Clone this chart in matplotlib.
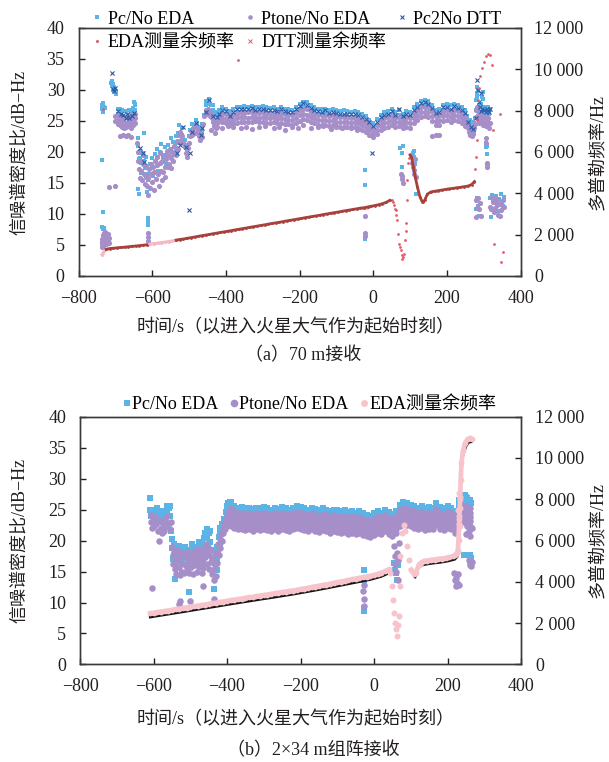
import matplotlib
matplotlib.use("Agg")
import matplotlib.pyplot as plt
from matplotlib.lines import Line2D
from matplotlib.ticker import FuncFormatter

plt.rcParams['font.family'] = ['Liberation Serif', 'Noto Sans CJK SC']
plt.rcParams['axes.unicode_minus'] = True

C_PC = '#5BB3E6'     # Pc/No EDA
C_PT = '#A68EC9'     # Ptone/No EDA
C_X = '#2D5AA8'      # Pc2No DTT
C_EDA = '#A8403C'    # EDA residual frequency (dense line)
C_RED = '#E25C68'    # residual frequency scatter
C_PINK = '#F4B9C2'   # DTT residual frequency
C_PINK_B = '#F7C4CC'
C_INK = '#231F20'

# ---------------- (a) 70 m ----------------
# flat part of the C/N0 band, read every 10 s
a_band_t = [-410, -400, -390, -380, -370, -360, -350, -340, -330, -320,
            -310, -300, -290, -280, -270, -260, -250, -240, -230, -220,
            -210, -200, -190, -180, -170, -160, -150, -140, -130, -120,
            -110, -100, -90, -80, -70, -60, -50, -40, -30, -20,
            -10, 0, 10, 20, 30, 40, 50, 60, 70, 80,
            90, 100, 110, 120, 130, 140, 150, 160, 170, 180,
            190, 200, 210, 220, 230, 240, 250]
a_pc_hi = [27.2, 27.0, 26.6, 26.9, 27.2, 27.3, 27.4, 27.3, 27.4, 27.3,
           27.2, 27.4, 27.3, 27.1, 27.2, 27.0, 27.2, 27.0, 27.0, 26.8,
           27.3, 27.8, 28.1, 28.0, 27.5, 27.2, 27.0, 26.9, 27.0, 26.8,
           26.9, 26.7, 26.6, 26.7, 26.6, 26.5, 26.6, 26.4, 26.1, 25.8,
           25.2, 24.6, 25.3, 26.0, 26.4, 26.6, 27.0, 26.5, 26.8, 26.2,
           26.6, 26.4, 27.2, 27.8, 28.3, 28.4, 28.3, 27.6, 26.8, 26.9,
           27.6, 27.8, 27.5, 27.8, 27.6, 27.2, 26.8]
a_pc_lo = [26.3, 26.2, 25.9, 26.0, 26.4, 26.5, 26.5, 26.4, 26.6, 26.5,
           26.4, 26.6, 26.5, 26.3, 26.3, 26.2, 26.4, 26.2, 26.1, 26.0,
           26.4, 26.9, 27.2, 27.1, 26.6, 26.4, 26.2, 26.1, 26.1, 26.0,
           26.0, 25.9, 25.8, 25.8, 25.7, 25.6, 25.7, 25.5, 25.2, 24.9,
           24.3, 23.8, 24.4, 25.1, 25.5, 25.8, 26.1, 25.7, 25.9, 25.4,
           25.7, 25.6, 26.3, 26.9, 27.4, 27.5, 27.4, 26.7, 25.9, 26.0,
           26.7, 26.9, 26.6, 26.9, 26.7, 26.3, 25.9]
a_pt_hi = [26.2, 26.1, 25.8, 25.9, 26.2, 26.4, 26.3, 26.4, 26.4, 26.3,
           26.3, 26.4, 26.2, 26.2, 26.3, 26.0, 26.2, 26.1, 26.0, 25.9,
           26.3, 26.8, 27.0, 26.9, 26.5, 26.2, 26.0, 25.9, 26.0, 25.8,
           25.9, 25.7, 25.6, 25.7, 25.6, 25.5, 25.5, 25.3, 25.0, 24.8,
           24.2, 23.7, 24.3, 25.0, 25.4, 25.6, 25.9, 25.5, 25.7, 25.2,
           25.6, 25.4, 26.2, 26.8, 27.2, 27.3, 27.2, 26.6, 25.8, 25.9,
           26.5, 26.8, 26.5, 26.7, 26.6, 26.1, 25.7]
a_pt_mid = [25.5, 25.3, 25.0, 25.2, 25.5, 25.6, 25.7, 25.5, 25.6, 25.7,
            25.5, 25.7, 25.5, 25.4, 25.6, 25.3, 25.5, 25.3, 25.2, 25.1,
            25.5, 25.9, 26.1, 26.0, 25.6, 25.4, 25.2, 25.1, 25.2, 25.0,
            25.1, 24.9, 24.8, 24.9, 24.8, 24.7, 24.8, 24.6, 24.3, 24.0,
            23.5, 23.0, 23.6, 24.2, 24.6, 24.9, 25.1, 24.8, 24.9, 24.5,
            24.9, 24.7, 25.4, 26.0, 26.4, 26.5, 26.4, 25.8, 25.0, 25.1,
            25.8, 26.0, 25.7, 25.9, 25.8, 25.4, 25.0]
a_pt_lo = [24.8, 24.6, 24.3, 24.5, 24.7, 24.9, 24.8, 24.9, 24.8, 25.0,
           24.8, 24.9, 24.7, 24.6, 24.8, 24.6, 24.7, 24.5, 24.5, 24.4,
           24.6, 25.0, 25.3, 25.2, 24.8, 24.6, 24.4, 24.3, 24.4, 24.2,
           24.3, 24.2, 24.0, 24.1, 24.0, 23.9, 24.0, 23.8, 23.5, 23.2,
           22.8, 22.4, 22.9, 23.5, 23.9, 24.1, 24.4, 24.0, 24.2, 23.8,
           24.1, 23.9, 24.6, 25.2, 25.6, 25.8, 25.7, 25.0, 24.3, 24.4,
           25.0, 25.2, 24.9, 25.1, 25.0, 24.6, 24.2]
a_dtt = [26.8, 26.6, 25.8, 26.5, 26.9, 26.9, 27.0, 26.9, 27.1, 26.8,
         26.9, 27.0, 26.8, 26.8, 26.7, 26.6, 26.9, 26.6, 26.5, 26.4,
         26.9, 27.4, 27.9, 27.6, 27.1, 26.8, 26.6, 26.5, 26.7, 26.3,
         26.5, 26.3, 26.2, 26.2, 26.1, 26.1, 26.2, 25.9, 25.6, 25.3,
         24.8, 24.2, 24.9, 25.6, 26.0, 26.1, 26.6, 26.0, 27.0, 25.8,
         26.2, 25.9, 26.8, 27.3, 27.9, 28.0, 27.8, 27.1, 26.3, 26.5,
         27.2, 27.3, 27.0, 27.4, 27.1, 26.7, 26.3]

# early pass, dip and recovery (-740 .. -415 s) plus isolated points
a_pc_t = [-736, -735, -734, -733, -731, -729, -735, -734, -736, -733, -731,
          -711, -710, -708, -707, -706, -705, -704, -703, -701, -700, -698, -697,
          -694, -688, -682, -676, -670, -664, -658, -652, -646,
          -694, -688, -682, -676, -670, -664, -658, -652, -646, -648, -647,
          -638, -638, -637, -636, -638, -637, -632, -632, -631, -630, -623, -624,
          -622, -619, -616, -612, -612, -613, -612, -611, -612, -605, -600, -600,
          -598, -593, -586, -586, -584, -580, -577, -577, -575, -570, -564, -564,
          -562, -557, -550, -550, -548, -543, -536, -536, -534, -530, -527, -527,
          -525, -518, -518, -512, -506, -506, -500, -496, -491, -491, -486, -482,
          -482, -477, -473, -473, -468, -464, -464, -460, -455, -455, -453, -450,
          -445, -445, -440, -436, -436, -432, -427, -427, -422, -418, -418,
          -22, -21, -22, 74, 77, 79, 82, 108, 110, 112, 114, 116,
          256, 258, 260, 263, 266, 268, 271, 274, 277, 279, 280, 281, 282, 283,
          284, 286, 288, 290, 292, 294, 296, 298, 299, 301, 303, 305, 307, 309,
          311, 313, 315, 317, 306, 307, 308, 310, 282, 284, 280, 286,
          318, 320, 322, 325, 326, 330, 334, 338, 340, 342, 346, 350, 352, 355]
a_pc_v = [27.6, 27.0, 26.5, 27.9, 27.3, 27.1, 18.7, 10.3, 7.9, 7.5, 7.8,
          31.2, 30.6, 31.5, 30.9, 30.2, 31.0, 30.4, 29.8, 30.2, 29.7, 29.9, 29.4,
          27.0, 26.9, 26.8, 26.6, 26.6, 26.8, 26.5, 27.1, 27.6,
          26.2, 26.1, 25.8, 25.6, 25.7, 26.0, 25.6, 26.2, 26.8, 28.1, 27.8,
          22.3, 21.0, 19.8, 18.9, 14.1, 13.3, 20.2, 19.0, 18.2, 16.6, 23.0, 19.8,
          18.5, 17.4, 19.2, 16.5, 15.5, 13.6, 9.4, 8.7, 8.3, 18.0, 19.0, 17.8,
          16.2, 19.6, 20.5, 19.2, 17.0, 20.0, 21.3, 19.8, 18.2, 19.2, 20.8, 19.5,
          18.0, 21.2, 22.3, 20.5, 19.2, 21.6, 22.5, 21.4, 20.0, 23.0, 24.3, 23.0,
          21.5, 23.8, 22.8, 22.0, 21.2, 20.3, 22.5, 23.6, 24.5, 23.5, 24.3, 25.1,
          24.0, 24.6, 24.0, 23.2, 24.0, 24.5, 23.5, 26.0, 28.3, 27.5, 26.5, 28.0,
          28.5, 27.8, 27.6, 27.5, 26.8, 26.5, 26.0, 25.2, 26.4, 26.8, 25.8,
          17.1, 14.6, 5.9, 20.6, 19.9, 17.6, 20.9, 19.8, 20.2, 19.2, 18.0, 13.3,
          25.8, 25.0, 24.5, 25.2, 24.0, 24.8, 23.9, 24.6, 25.5, 26.8, 28.4, 29.5, 30.4, 28.9,
          29.8, 27.6, 26.5, 27.4, 26.3, 27.8, 28.8, 29.6, 28.6, 27.3, 26.6, 27.2, 26.2, 27.0,
          26.4, 27.3, 26.1, 27.0, 21.4, 20.8, 19.6, 21.0, 12.5, 11.3, 10.8, 9.7,
          12.6, 9.5, 13.0, 10.8, 12.2, 11.8, 12.9, 11.5, 10.5, 12.4, 13.2, 12.0, 11.3, 12.7]

a_pt_t = [-737, -736, -735, -734, -733, -732, -731, -730, -729, -728, -727, -726,
          -725, -724, -723, -722, -721, -720, -719, -718, -717, -736, -733, -718, -702,
          -700, -700, -694, -694, -694, -688, -688, -688, -682, -682, -682,
          -676, -676, -676, -670, -670, -670, -664, -664, -664, -658, -658, -658,
          -652, -652, -652, -646, -646, -646, -688, -680, -672, -665, -658,
          -640, -639, -638, -636, -634, -632, -630, -628, -626, -624, -622, -620,
          -618, -616, -614, -612, -612, -611, -612, -610, -608, -606, -604, -602,
          -600, -598, -596, -594, -592, -590, -588, -586, -584, -582, -580, -578,
          -576, -574, -572, -570, -568, -566, -564, -562, -560, -558, -556, -554,
          -552, -550, -548, -546, -544, -542, -540, -538, -536,
          -532, -530, -528, -526, -524, -522, -519, -516, -512, -509, -506, -503,
          -500, -497, -494, -491, -488, -485, -482, -479, -476, -473, -470, -467,
          -464, -461, -458, -455, -452, -449, -446, -443, -440, -437, -434, -431,
          -428, -425, -422, -419, -416, -440, -430,
          -425, -410, -395, -380, -360, -345, -330, -310, -295, -270, -255, -240,
          -220, -205, -190, -170, -150, -135, -115, -100, -85, -60, -45, 160, 170, 180,
          -23, -22, -22, 75, 77, 79, 81, 106, 108, 110, 112, 115, 113,
          256, 258, 260, 262, 264, 266, 268, 270, 272, 274, 276, 278, 280, 282,
          284, 286, 288, 290, 292, 294, 296, 298, 300, 302, 304, 306, 308, 310,
          312, 314, 316, 306, 307, 308, 309, 310,
          278, 280, 283, 285, 288, 290, 292,
          317, 321, 324, 328, 332, 336, 339, 343, 344, 348, 330, 353, 356, 319, 335]
a_pt_v = [5.2, 6.0, 5.5, 6.6, 5.0, 5.8, 6.9, 5.4, 6.2, 7.1, 5.6, 6.4,
          5.1, 6.8, 5.9, 6.3, 5.3, 6.7, 5.7, 6.1, 5.4, 4.6, 4.8, 14.4, 14.5,
          25.8, 25.0, 26.0, 25.2, 24.5, 25.9, 25.0, 24.3, 25.6, 24.8, 24.0,
          25.4, 24.6, 23.8, 25.6, 24.7, 24.0, 25.8, 24.9, 24.2, 25.3, 24.5, 23.9,
          25.9, 25.1, 24.4, 26.2, 25.4, 24.6, 22.6, 22.8, 22.5, 22.7, 22.4,
          21.5, 20.0, 18.6, 17.2, 15.8, 18.6, 17.0, 15.5, 19.5, 18.0, 16.5, 14.8,
          17.8, 16.0, 14.5, 13.0, 7.0, 6.3, 5.7, 15.8, 17.2, 14.2, 16.5, 18.0,
          15.2, 17.5, 13.8, 16.8, 18.6, 15.6, 17.9, 19.2, 16.4, 14.5, 18.2, 19.8,
          17.0, 15.5, 18.5, 16.8, 19.2, 17.6, 15.9, 18.9, 20.2, 17.5, 19.5, 18.0,
          20.5, 19.0, 17.4, 20.0, 18.6, 21.0, 19.6, 20.8, 19.5,
          21.8, 20.5, 22.8, 21.6, 23.2, 22.0, 22.5, 21.5, 20.8, 19.8, 19.2, 20.6,
          21.5, 22.6, 23.4, 22.8, 23.8, 23.0, 24.0, 23.2, 23.6, 22.6, 22.0, 23.0,
          22.4, 24.5, 25.8, 26.8, 26.2, 27.0, 26.4, 25.8, 26.2, 25.5, 24.8, 24.2,
          23.8, 24.6, 25.2, 25.6, 25.0, 23.6, 23.0,
          24.0, 23.8, 24.2, 24.0, 23.9, 24.1, 23.7, 24.0, 24.2, 23.8, 24.0, 23.6,
          24.1, 23.9, 24.3, 23.8, 24.0, 24.2, 23.7, 24.0, 23.9, 24.1, 23.5, 22.6, 22.8, 22.7,
          9.6, 7.0, 6.5, 16.5, 15.6, 16.2, 15.0, 18.2, 17.6, 17.1, 16.4, 15.9, 18.8,
          24.6, 23.9, 23.3, 24.2, 22.8, 23.6, 22.5, 23.4, 22.9, 23.8, 24.5, 25.6, 26.8, 27.2,
          26.0, 25.2, 24.6, 25.8, 24.9, 26.1, 25.4, 24.4, 25.6, 24.8, 25.9, 24.2, 25.3, 24.7,
          25.5, 23.9, 24.6, 22.2, 21.5, 18.2, 17.6, 18.0,
          9.5, 12.2, 11.0, 12.5, 10.8, 11.8, 9.6,
          11.2, 10.8, 12.0, 10.3, 11.0, 12.3, 9.9, 9.7, 11.6, 10.6, 12.7, 12.3, 11.2, 12.8, 11.4]

a_x_t = [-709, -706, -704, -702, -692, -685, -678, -672, -668, -662, -655, -648,
         -632, -625, -623, -532, -525, -515, -508, -498, -493, -482, -468, -464,
         -455, -447, -436, -425, -418, -500, -3,
         258, 265, 272, 278, 283, 285, 287, 289, 292, 294, 296, 300, 305, 310, 315, 318]
a_x_v = [32.7, 30.1, 29.8, 30.3, 26.6, 26.2, 25.9, 25.4, 26.2, 25.5, 25.8, 26.3,
         20.6, 19.8, 18.4, 19.8, 21.1, 24.0, 20.8, 19.8, 23.3, 24.6, 22.8, 23.8,
         26.5, 28.4, 25.8, 25.6, 26.2, 10.6, 19.9,
         24.8, 24.0, 23.7, 25.5, 31.6, 30.0, 28.0, 27.2, 29.5, 26.6, 27.0, 26.7, 26.4, 26.9, 26.5, 27.0]

# residual frequency, Hz
a_eda1_t = [-725, -715, -705, -695, -685, -675, -665, -655, -645, -635, -625, -615]
a_eda1_f = [1290, 1330, 1345, 1365, 1380, 1395, 1415, 1435, 1450, 1470, 1490, 1510]
a_eda2_t = [-535, -525, -515, -505, -495, -485, -475, -465, -455, -445,
            -435, -425, -415, -405, -395, -385, -375, -365, -355, -345,
            -335, -325, -315, -305, -295, -285, -275, -265, -255, -245,
            -235, -225, -215, -205, -195, -185, -175, -165, -155, -145,
            -135, -125, -115, -105, -95, -85, -75, -65, -55, -45,
            -35, -25, -15, -5, 5, 15, 25, 35, 45]
a_eda2_f = [1735, 1765, 1790, 1825, 1855, 1885, 1920, 1950, 1980, 2010,
            2045, 2075, 2105, 2135, 2165, 2195, 2230, 2260, 2290, 2320,
            2355, 2385, 2415, 2445, 2475, 2510, 2540, 2570, 2600, 2630,
            2665, 2695, 2725, 2755, 2785, 2820, 2850, 2880, 2910, 2940,
            2975, 3005, 3035, 3065, 3095, 3130, 3160, 3190, 3220, 3250,
            3285, 3300, 3340, 3375, 3410, 3450, 3500, 3560, 3660]
a_eda3_t = [100, 104, 109, 114, 120, 127, 134, 140, 147, 157, 167, 177,
            187, 197, 207, 217, 227, 237, 247, 257, 267, 275]
a_eda3_f = [5860, 5760, 5290, 4800, 4320, 3830, 3560, 3670, 3960, 4070, 4100, 4130,
            4160, 4190, 4220, 4240, 4270, 4290, 4320, 4350, 4420, 4570]
a_spk_t = [50, 53, 56, 59, 61, 63, 66, 68, 71, 73, 75, 77, 79, 81, 84, 86, 88,
           89, 91, 93, 95, 97,
           277, 279, 281, 283, 285, 287, 290, 295, 300, 306, 313, 318,
           -734, -367, 322, 325, 343, 327, 347, 352]
a_spk_f = [3700, 3600, 3450, 3250, 3170, 2950, 2700, 2050, 1570, 1400, 1245, 1000,
           840, 900, 1080, 1730, 2200, 2540, 3680, 4650, 5460, 5700,
           5200, 5760, 6570, 7550, 8530, 9090, 9660, 10060, 10370, 10630, 10750, 10700,
           8070, 10450, 10210, 7050, 7840, 1560, 680, 1170]
a_dtt1_t = [-736, -733, -730, -727, -724]
a_dtt1_f = [1040, 1120, 1200, 1260, 1285]
a_dtt2_t = [-612, -605, -595, -585, -575, -565, -555, -545, -535]
a_dtt2_f = [1515, 1545, 1565, 1590, 1615, 1640, 1665, 1695, 1730]
a_dtt3_t = [-28, -22, -18, -12]
a_dtt3_f = [3270, 3310, 3290, 3330]

# ---------------- (b) 2x34 m array ----------------
b_band_t = [-390, -380, -370, -360, -350, -340, -330, -320, -310, -300,
            -290, -280, -270, -260, -250, -240, -230, -220, -210, -200,
            -190, -180, -170, -160, -150, -140, -130, -120, -110, -100,
            -90, -80, -70, -60, -50, -40, -30, -20, -10, 0,
            10, 20, 30, 40, 50, 60, 70, 80, 90, 100,
            110, 120, 130, 140, 150, 160, 170, 180, 190, 200,
            210, 220, 230, 240, 250, 260]
b_pc_hi = [26.2, 25.6, 25.3, 25.4, 25.2, 25.3, 25.1, 25.3, 25.2, 25.4,
           25.2, 25.0, 25.3, 25.1, 25.4, 25.2, 25.0, 25.3, 25.5, 25.4,
           25.2, 25.0, 25.3, 25.1, 24.9, 25.2, 25.0, 24.8, 25.0, 24.9,
           24.7, 24.9, 24.6, 24.8, 24.5, 24.7, 24.4, 24.2, 24.0, 24.4,
           24.8, 24.5, 25.0, 24.6, 24.3, 24.8, 25.8, 26.3, 26.0, 25.8,
           25.6, 25.3, 25.5, 25.2, 25.4, 25.3, 26.1, 25.4, 25.2, 25.5,
           25.3, 24.8, 26.5, 27.2, 27.0, 26.6]
b_pc_lo = [25.3, 24.8, 24.5, 24.5, 24.4, 24.4, 24.3, 24.5, 24.3, 24.6,
           24.4, 24.2, 24.4, 24.3, 24.5, 24.4, 24.2, 24.4, 24.6, 24.5,
           24.4, 24.2, 24.4, 24.3, 24.1, 24.3, 24.2, 24.0, 24.1, 24.1,
           23.9, 24.0, 23.8, 24.0, 23.7, 23.9, 23.6, 23.4, 23.2, 23.6,
           24.0, 23.7, 24.1, 23.8, 23.5, 24.0, 24.9, 25.4, 25.2, 25.0,
           24.8, 24.5, 24.6, 24.4, 24.5, 24.5, 25.2, 24.6, 24.4, 24.6,
           24.5, 24.0, 25.5, 26.2, 26.1, 25.7]
b_pt_hi = [25.2, 24.7, 24.4, 24.5, 24.3, 24.4, 24.2, 24.4, 24.3, 24.5,
           24.3, 24.1, 24.4, 24.2, 24.5, 24.3, 24.1, 24.4, 24.6, 24.5,
           24.3, 24.1, 24.4, 24.2, 24.0, 24.3, 24.1, 23.9, 24.1, 24.0,
           23.8, 24.0, 23.7, 23.9, 23.6, 23.8, 23.5, 23.3, 23.1, 23.5,
           23.9, 23.6, 24.1, 23.7, 23.4, 23.9, 24.9, 25.3, 25.1, 24.9,
           24.7, 24.4, 24.6, 24.3, 24.5, 24.4, 25.1, 24.5, 24.3, 24.6,
           24.4, 23.9, 25.2, 25.8, 25.6, 25.2]
b_pt_m1 = [24.5, 24.0, 23.8, 23.8, 23.6, 23.8, 23.5, 23.7, 23.6, 23.9,
           23.6, 23.5, 23.7, 23.5, 23.8, 23.6, 23.4, 23.8, 23.9, 23.8,
           23.7, 23.4, 23.8, 23.5, 23.3, 23.7, 23.4, 23.2, 23.5, 23.3,
           23.1, 23.4, 23.0, 23.3, 22.9, 23.1, 22.8, 22.6, 22.4, 22.9,
           23.2, 22.9, 23.5, 23.0, 22.7, 23.2, 24.2, 24.7, 24.4, 24.2,
           24.0, 23.7, 24.0, 23.6, 23.9, 23.7, 24.4, 23.9, 23.6, 24.0,
           23.7, 23.3, 24.5, 25.1, 24.9, 24.5]
b_pt_mid = [23.8, 23.4, 23.1, 23.2, 23.0, 23.1, 22.9, 23.1, 23.0, 23.2,
            23.0, 22.8, 23.1, 22.9, 23.2, 23.0, 22.8, 23.1, 23.3, 23.2,
            23.0, 22.8, 23.1, 22.9, 22.7, 23.0, 22.8, 22.6, 22.8, 22.7,
            22.5, 22.7, 22.4, 22.6, 22.3, 22.5, 22.2, 22.0, 21.8, 22.2,
            22.6, 22.3, 22.8, 22.4, 22.1, 22.6, 23.6, 24.0, 23.8, 23.6,
            23.4, 23.1, 23.3, 23.0, 23.2, 23.1, 23.8, 23.2, 23.0, 23.3,
            23.1, 22.6, 23.8, 24.4, 24.2, 23.8]
b_pt_m2 = [23.1, 22.7, 22.5, 22.5, 22.3, 22.5, 22.2, 22.4, 22.4, 22.5,
           22.3, 22.2, 22.4, 22.2, 22.6, 22.3, 22.1, 22.5, 22.6, 22.6,
           22.3, 22.1, 22.5, 22.2, 22.0, 22.4, 22.1, 21.9, 22.2, 22.0,
           21.8, 22.1, 21.7, 22.0, 21.6, 21.8, 21.5, 21.3, 21.1, 21.6,
           21.9, 21.6, 22.2, 21.7, 21.4, 21.9, 22.9, 23.4, 23.1, 22.9,
           22.7, 22.4, 22.7, 22.3, 22.6, 22.4, 23.1, 22.5, 22.3, 22.7,
           22.4, 21.9, 23.1, 23.7, 23.5, 23.1]
b_pt_lo = [22.4, 22.1, 21.8, 21.9, 21.7, 21.8, 21.6, 21.8, 21.7, 21.9,
           21.7, 21.5, 21.8, 21.6, 21.9, 21.7, 21.5, 21.8, 22.0, 21.9,
           21.7, 21.5, 21.8, 21.6, 21.4, 21.7, 21.5, 21.3, 21.5, 21.4,
           21.2, 21.4, 21.1, 21.3, 21.0, 21.2, 20.9, 20.7, 20.5, 20.9,
           21.3, 21.0, 21.5, 21.1, 20.8, 21.3, 22.3, 22.7, 22.5, 22.3,
           22.1, 21.8, 22.0, 21.7, 21.9, 21.8, 22.5, 21.9, 21.7, 22.0,
           21.8, 21.3, 22.4, 23.0, 22.8, 22.4]

b_pc_t = [-609, -609, -608, -604, -600, -600, -595, -591, -591, -586, -582, -582,
          -577, -572, -572, -568, -563, -563, -559, -556, -556,
          -552, -550, -549, -548, -545, -541, -541, -541, -537, -532, -532, -531,
          -527, -523, -523, -522, -518, -514, -514, -509, -504, -504, -504, -500,
          -495, -495, -491, -486, -486, -486, -481, -477, -477, -472, -468, -468,
          -468, -463, -459, -455, -455, -455, -450, -445, -445, -440, -436, -436,
          -436, -431, -427, -427, -427, -422, -418, -418, -418, -413, -409, -409,
          -404, -400, -400, -396, -393, -393,
          -28, -28, -28, -28, 55, 58, 60, 62, 64, 244, 262, 264, 258, 255, 250,
          235, 240, 262, 265, 248, 252]
b_pc_v = [26.9, 24.9, 24.0, 24.5, 24.5, 23.4, 25.0, 25.2, 24.0, 24.4, 24.8, 23.5,
          23.0, 24.0, 22.8, 24.8, 25.6, 24.3, 25.2, 25.6, 24.0,
          21.5, 20.2, 18.8, 17.0, 19.5, 18.5, 16.5, 13.8, 17.8, 19.2, 17.5, 15.8,
          18.6, 18.2, 16.8, 14.8, 17.5, 19.0, 17.2, 18.0, 18.5, 16.4, 11.7, 17.4,
          19.4, 17.8, 18.6, 19.0, 17.4, 16.0, 18.2, 19.8, 18.2, 19.0, 19.5, 17.6,
          16.0, 20.4, 21.2, 21.9, 20.5, 18.8, 21.2, 21.5, 19.8, 18.4, 18.5, 16.5,
          12.2, 17.0, 19.0, 17.0, 15.2, 20.5, 22.0, 21.0, 19.0, 22.6, 23.4, 22.0,
          24.6, 25.5, 24.0, 26.0, 26.3, 25.2,
          15.3, 13.7, 9.1, 8.6, 16.4, 15.2, 14.8, 13.7, 16.0, 17.7, 17.7, 17.2, 24.0, 23.9, 24.8,
          25.8, 26.2, 25.5, 26.0, 27.4, 26.8]

b_pt_t = [-608, -606, -604, -604, -601, -598, -595, -592, -589, -586, -583, -580,
          -577, -574, -571, -568, -565, -562, -559, -556, -553,
          -550, -548, -546, -544, -542, -540, -538, -536, -534, -532, -530, -528,
          -526, -524, -522, -520, -518, -516, -514, -512, -510, -508, -506, -504,
          -502, -500, -498, -496, -494, -492, -490, -488, -486, -484, -482, -480,
          -478, -476, -474, -472, -470, -468, -466, -464, -462, -460, -458, -456,
          -454, -452, -450, -448, -446, -444, -442, -440, -438, -436, -434, -432,
          -430, -428, -426, -424, -422, -420, -418, -416, -414, -412, -410, -408,
          -406, -404, -402, -400, -398, -396, -394,
          -527, -530, -502, -466, -436,
          -28, -28, -28, -29, 54, 56, 58, 60, 62, 64, 66, 68,
          218, 220, 222, 224, 226, 228, 230, 258, 260, 262, 264, 266,
          250, 254, 258, 262, 266]
b_pt_v = [24.2, 23.0, 22.0, 12.4, 23.6, 22.4, 23.8, 22.6, 21.5, 20.0, 23.2, 22.0,
          21.2, 22.8, 21.6, 23.5, 22.4, 23.9, 22.8, 21.8, 23.0,
          19.0, 17.6, 16.2, 18.2, 15.4, 17.0, 14.6, 16.8, 18.4, 15.8, 17.2, 14.4,
          16.4, 18.0, 15.0, 17.6, 16.2, 14.8, 17.8, 16.0, 18.2, 15.6, 17.0, 14.8,
          16.6, 18.0, 15.8, 17.4, 16.2, 14.6, 17.0, 18.4, 16.0, 17.6, 15.0, 16.8,
          18.6, 15.8, 17.2, 16.4, 18.0, 14.8, 17.0, 15.6, 18.8, 17.4, 19.5, 18.0,
          16.2, 19.0, 17.6, 15.4, 18.4, 16.6, 14.6, 17.0, 15.2, 13.6, 16.0, 17.8,
          14.2, 16.4, 18.2, 19.4, 17.6, 20.2, 18.8, 21.0, 20.0, 22.0, 21.2, 22.8,
          21.8, 23.4, 22.4, 24.0, 23.0, 24.6, 23.6,
          10.2, 9.7, 10.2, 12.6, 10.5,
          12.9, 10.5, 9.4, 11.8, 19.1, 17.5, 16.2, 14.9, 18.0, 13.7, 16.8, 19.6,
          14.8, 13.6, 12.6, 14.0, 13.2, 14.6, 12.9, 16.9, 16.4, 16.1, 15.9, 16.6,
          21.0, 22.3, 21.5, 20.8, 22.0]

# residual frequency, Hz
b_eda_t = [-609, -600, -590, -580, -570, -560, -550, -540, -530, -520,
           -510, -500, -490, -480, -470, -460, -450, -440, -430, -420,
           -410, -400, -390, -380, -370, -360, -350, -340, -330, -320,
           -310, -300, -290, -280, -270, -260, -250, -240, -230, -220,
           -210, -200, -190, -180, -170, -160, -150, -140, -130, -120,
           -110, -100, -90, -80, -70, -60, -50, -40, -30, -20,
           -10, 0, 10, 20, 30, 40, 44]
b_eda_f = [2470, 2495, 2525, 2555, 2580, 2610, 2640, 2670, 2700, 2725,
           2755, 2785, 2815, 2840, 2870, 2900, 2930, 2960, 2985, 3015,
           3045, 3075, 3100, 3130, 3160, 3185, 3215, 3245, 3270, 3300,
           3330, 3355, 3385, 3410, 3440, 3470, 3495, 3525, 3555, 3580,
           3610, 3640, 3675, 3705, 3740, 3770, 3805, 3840, 3870, 3905,
           3940, 3975, 4010, 4045, 4080, 4115, 4150, 4185, 4220, 4255,
           4290, 4330, 4380, 4440, 4510, 4600, 4430]
b_dip_t = [49, 52, 54, 57, 60, 62, 65, 67, 70, 72, 76, 81, 85, 90, 95]
b_dip_f = [3790, 3140, 2500, 2015, 1700, 1370, 1900, 2340, 3790, 5240,
           6370, 6730, 6450, 5730, 5080]
b_rec_t = [101, 108, 114, 122, 128, 135, 145, 155, 165, 175, 185, 195, 205,
           215, 221, 226, 228]
b_rec_f = [4590, 4390, 4430, 4840, 4930, 5000, 5030, 5060, 5080, 5110, 5130,
           5150, 5190, 5230, 5280, 5400, 5490]
b_rise_t = [228, 230, 232, 234, 236, 238, 242, 248, 255, 262, 267]
b_rise_f = [5490, 6050, 7030, 7990, 8950, 9760, 10330, 10730, 10920, 10970, 10900]
b_spr_t = [229, 231, 230, 233, 233, 232, 234]
b_spr_f = [7500, 8300, 6800, 8100, 7600, 7200, 6700]
b_blk1_t = [-609, -580, -550, -520, -490, -460, -430, -400, -370, -340, -310, -280,
            -250, -220, -190, -160, -130, -100, -70, -40, -10, 20, 40]
b_blk1_f = [2290, 2375, 2460, 2545, 2635, 2720, 2805, 2895, 2980, 3065, 3150, 3230,
            3315, 3400, 3495, 3590, 3690, 3795, 3900, 4005, 4110, 4260, 4420]
b_blk2_t = [112, 120, 130, 145, 160, 180, 200, 220, 226]
b_blk2_f = [4230, 4660, 4810, 4860, 4900, 4940, 5000, 5090, 5210]
b_blk3_t = [242, 250, 258, 265]
b_blk3_f = [10130, 10560, 10760, 10780]


def style_axes(ax, ax2):
    ax.set_xlim(-800, 400)
    ax.set_ylim(0, 40)
    ax.set_xticks(range(-800, 401, 200))
    ax.set_yticks(range(0, 41, 5))
    ax2.set_ylim(0, 12000)
    ax2.set_yticks(range(0, 12001, 2000))
    ax2.yaxis.set_major_formatter(
        FuncFormatter(lambda v, p: f'{int(v):,}'.replace(',', ' ')))
    for a in (ax, ax2):
        a.tick_params(direction='in', length=4, width=1.0, labelsize=13,
                      pad=10, colors=C_INK)
        for s in a.spines.values():
            s.set_linewidth(1.0)
            s.set_color('#3a3a3a')
    ax.tick_params(top=False, right=False)


fig = plt.figure(figsize=(6.09, 7.62), dpi=100)

# ---- panel (a)
ax = fig.add_axes([0.1289, 0.6378, 0.7258, 0.3255])
ax2 = ax.twinx()
for vals in (a_pc_hi, a_pc_lo):
    ax.scatter(a_band_t, vals, s=12, marker='s', color=C_PC, lw=0)
ax.scatter(a_pc_t, a_pc_v, s=12, marker='s', color=C_PC, lw=0)
for vals in (a_pt_hi, a_pt_mid, a_pt_lo):
    ax.scatter(a_band_t, vals, s=14, marker='o', color=C_PT, lw=0)
ax.scatter(a_pt_t, a_pt_v, s=14, marker='o', color=C_PT, lw=0)
ax.scatter(a_band_t, a_dtt, s=9, marker='x', color=C_X, lw=0.8)
ax.scatter(a_x_t, a_x_v, s=9, marker='x', color=C_X, lw=0.8)

for t, f in ((a_dtt1_t, a_dtt1_f), (a_dtt2_t, a_dtt2_f), (a_dtt3_t, a_dtt3_f)):
    ax2.plot(t, f, color=C_PINK, lw=2.2, marker='o', ms=2.2, mew=0)
for t, f in ((a_eda1_t, a_eda1_f), (a_eda2_t, a_eda2_f), (a_eda3_t, a_eda3_f)):
    ax2.plot(t, f, color=C_EDA, lw=2.0, marker='o', ms=2.0, mew=0)
ax2.scatter(a_spk_t, a_spk_f, s=4, color=C_RED, lw=0)
style_axes(ax, ax2)

hs = [Line2D([], [], ls='none', marker='s', ms=3, color=C_PC, mew=0),
      Line2D([], [], ls='none', marker='o', ms=2.2, color=C_RED, mew=0),
      Line2D([], [], ls='none', marker='o', ms=3.3, color=C_PT, mew=0),
      Line2D([], [], ls='none', marker='x', ms=2.3, color=C_RED, mew=0.7),
      Line2D([], [], ls='none', marker='x', ms=3.0, color=C_X, mew=0.8)]
labels = ['Pc/No EDA', 'EDA测量余频率', 'Ptone/No EDA', 'DTT测量余频率', 'Pc2No DTT']
fig.legend(hs, labels, loc='upper left', bbox_to_anchor=(0.150, 0.986),
           ncol=3, frameon=False, fontsize=13, handlelength=0.6,
           handletextpad=0.3, columnspacing=0.58, labelspacing=0.36,
           borderpad=0, borderaxespad=0)

fig.text(20 / 609, 1 - 152 / 762, '信噪谱密度比/dB−Hz', rotation=90,
         ha='center', va='center', fontsize=13, color=C_INK)
fig.text(598 / 609, 1 - 152 / 762, '多普勒频率/Hz', rotation=90,
         ha='center', va='center', fontsize=13, color=C_INK)
fig.text(296 / 609, 1 - 328 / 762, '时间/s（以进入火星大气作为起始时刻）',
         ha='center', va='center', fontsize=13, color=C_INK)
fig.text(303 / 609, 1 - 356 / 762, '（a）70 m接收',
         ha='center', va='center', fontsize=13, color=C_INK)

# ---- panel (b)
bx = fig.add_axes([0.1314, 0.1280, 0.7241, 0.3252])
bx2 = bx.twinx()
for vals in (b_pc_hi, b_pc_lo):
    bx.scatter(b_band_t, vals, s=14, marker='s', color=C_PC, lw=0)
bx.scatter(b_pc_t, b_pc_v, s=14, marker='s', color=C_PC, lw=0)
for vals in (b_pt_hi, b_pt_m1, b_pt_mid, b_pt_m2, b_pt_lo):
    bx.scatter(b_band_t, vals, s=22, marker='o', color=C_PT, lw=0)
bx.scatter(b_pt_t, b_pt_v, s=22, marker='o', color=C_PT, lw=0)

for t, f in ((b_blk1_t, b_blk1_f), (b_blk2_t, b_blk2_f), (b_blk3_t, b_blk3_f)):
    bx2.plot(t, f, color='#111111', lw=1.8)
for t, f in ((b_eda_t, b_eda_f), (b_rec_t, b_rec_f), (b_rise_t, b_rise_f)):
    bx2.plot(t, f, color=C_PINK_B, lw=3.4, marker='o', ms=4.2, mew=0)
bx2.scatter(b_dip_t, b_dip_f, s=19, color=C_PINK_B, lw=0)
bx2.scatter(b_spr_t, b_spr_f, s=19, color=C_PINK_B, lw=0)
style_axes(bx, bx2)

hs_b = [Line2D([], [], ls='none', marker='s', ms=4.5, color=C_PC, mew=0),
        Line2D([], [], ls='none', marker='o', ms=5.5, color=C_PT, mew=0),
        Line2D([], [], ls='none', marker='o', ms=5.0, color=C_PINK_B, mew=0)]
fig.legend(hs_b, ['Pc/No EDA', 'Ptone/No EDA', 'EDA测量余频率'], loc='upper left',
           bbox_to_anchor=(0.201, 0.480), ncol=3, frameon=False, fontsize=13,
           handlelength=0.5, handletextpad=0.05, columnspacing=0.6,
           borderpad=0, borderaxespad=0)

fig.text(20 / 609, 1 - 540 / 762, '信噪谱密度比/dB−Hz', rotation=90,
         ha='center', va='center', fontsize=13, color=C_INK)
fig.text(598 / 609, 1 - 540 / 762, '多普勒频率/Hz', rotation=90,
         ha='center', va='center', fontsize=13, color=C_INK)
fig.text(296 / 609, 1 - 720 / 762, '时间/s（以进入火星大气作为起始时刻）',
         ha='center', va='center', fontsize=13, color=C_INK)
fig.text(313 / 609, 1 - 751 / 762, '（b）2×34 m组阵接收',
         ha='center', va='center', fontsize=13, color=C_INK)

fig.savefig('out.png', dpi=100)
